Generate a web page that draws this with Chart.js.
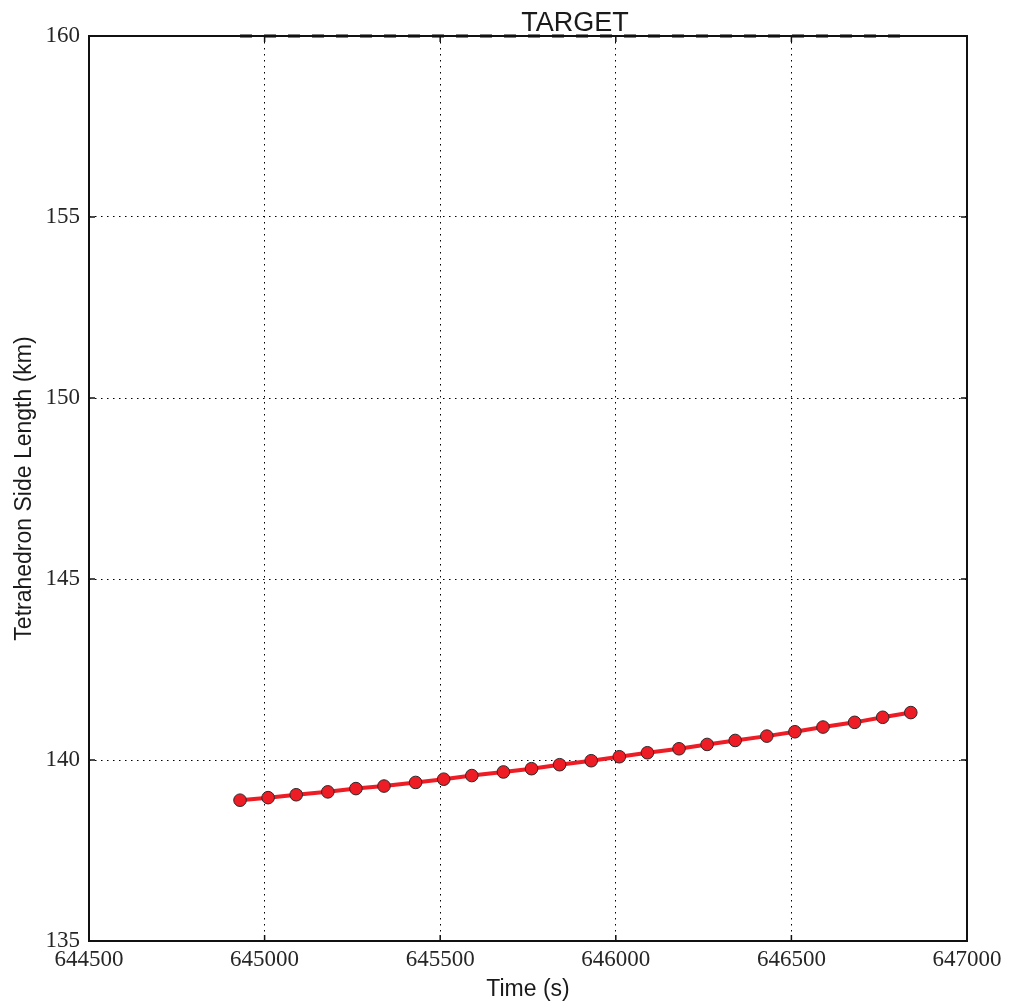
<!DOCTYPE html>
<html>
<head>
<meta charset="utf-8">
<script src="https://cdn.jsdelivr.net/npm/chart.js@4/dist/chart.umd.min.js"></script>
<style>
  html, body { margin: 0; padding: 0; background: #fff; }
  #wrap { width: 1009px; height: 1008px; }
</style>
</head>
<body>
<div id="wrap"><canvas id="chart" width="1009" height="1008"></canvas></div>
<script>
// sample times (s) and side length (km)
const times = [644930, 645010, 645090, 645180, 645260, 645340, 645430, 645510,
               645590, 645680, 645760, 645840, 645930, 646010, 646090, 646180,
               646260, 646340, 646430, 646510, 646590, 646680, 646760, 646840];
const sideLength = [138.89, 138.96, 139.04, 139.12, 139.21, 139.28, 139.38, 139.47,
                    139.57, 139.67, 139.76, 139.87, 139.98, 140.09, 140.20, 140.31,
                    140.43, 140.54, 140.66, 140.78, 140.91, 141.04, 141.18, 141.31];
const targetLength = 160;

const xTicks = [644500, 645000, 645500, 646000, 646500, 647000];
const yTicks = [135, 140, 145, 150, 155, 160];

const tickFont = { family: "'Liberation Serif', serif", size: 23 };
const labelFont = { family: "'Liberation Sans', Arial, sans-serif", size: 23 };

// box frame, inward ticks and the title
const frame = {
  id: 'frame',
  afterDraw(chart) {
    const { ctx, chartArea: a, scales } = chart;
    ctx.save();
    ctx.strokeStyle = '#111';
    ctx.lineWidth = 1.5;
    ctx.beginPath();
    xTicks.forEach(v => {
      const px = scales.x.getPixelForValue(v);
      ctx.moveTo(px, a.bottom); ctx.lineTo(px, a.bottom - 6);
      ctx.moveTo(px, a.top); ctx.lineTo(px, a.top + 6);
    });
    yTicks.forEach(v => {
      const py = scales.y.getPixelForValue(v);
      ctx.moveTo(a.left, py); ctx.lineTo(a.left + 6, py);
      ctx.moveTo(a.right, py); ctx.lineTo(a.right - 6, py);
    });
    ctx.stroke();
    ctx.lineWidth = 2;
    ctx.strokeRect(a.left, a.top, a.right - a.left, a.bottom - a.top);

    ctx.fillStyle = '#1a1a1a';
    ctx.font = "27px 'Liberation Sans', Arial, sans-serif";
    ctx.textAlign = 'center';
    ctx.textBaseline = 'alphabetic';
    ctx.fillText('TARGET', 575, 30.5);
    ctx.restore();
  }
};

new Chart(document.getElementById('chart'), {
  type: 'line',
  data: {
    datasets: [
      {
        label: 'target',
        data: [{ x: times[0], y: targetLength }, { x: times[times.length - 1], y: targetLength }],
        borderColor: '#000',
        borderWidth: 3,
        borderDash: [12, 12],
        pointRadius: 0,
        clip: false,
        fill: false
      },
      {
        label: 'side length',
        data: times.map((t, i) => ({ x: t, y: sideLength[i] })),
        borderColor: '#ee1c25',
        borderWidth: 4,
        pointRadius: 6.3,
        pointBackgroundColor: '#ee1c25',
        pointBorderColor: '#2a2a2a',
        pointBorderWidth: 1,
        tension: 0,
        fill: false
      }
    ]
  },
  options: {
    responsive: false,
    animation: false,
    layout: { padding: { top: 36, right: 42, bottom: 0, left: 0 } },
    plugins: {
      legend: { display: false },
      tooltip: { enabled: false },
      title: { display: false }
    },
    scales: {
      x: {
        type: 'linear',
        min: 644500,
        max: 647000,
        afterFit: s => { s.height = 67; },
        afterBuildTicks: s => { s.ticks = xTicks.map(v => ({ value: v })); },
        ticks: {
          font: tickFont,
          color: '#262626',
          padding: 5,
          maxRotation: 0,
          callback: v => String(v)
        },
        grid: {
          color: '#000',
          lineWidth: 1,
          drawTicks: false,
          tickLength: 0
        },
        border: { display: false, dash: [1.5, 4.5] },
        title: {
          display: true,
          text: 'Time (s)',
          font: labelFont,
          color: '#1a1a1a',
          padding: { top: 0, bottom: 5 }
        }
      },
      y: {
        type: 'linear',
        min: 135,
        max: 160,
        afterFit: s => { s.width = 89; },
        afterBuildTicks: s => { s.ticks = yTicks.map(v => ({ value: v })); },
        ticks: {
          font: tickFont,
          color: '#262626',
          padding: 9,
          callback: v => String(v)
        },
        grid: {
          color: '#000',
          lineWidth: 1,
          drawTicks: false,
          tickLength: 0
        },
        border: { display: false, dash: [1.5, 4.5] },
        title: {
          display: true,
          text: 'Tetrahedron Side Length (km)',
          font: labelFont,
          color: '#1a1a1a',
          padding: { top: 11, bottom: 0 }
        }
      }
    }
  },
  plugins: [frame]
});
</script>
</body>
</html>
